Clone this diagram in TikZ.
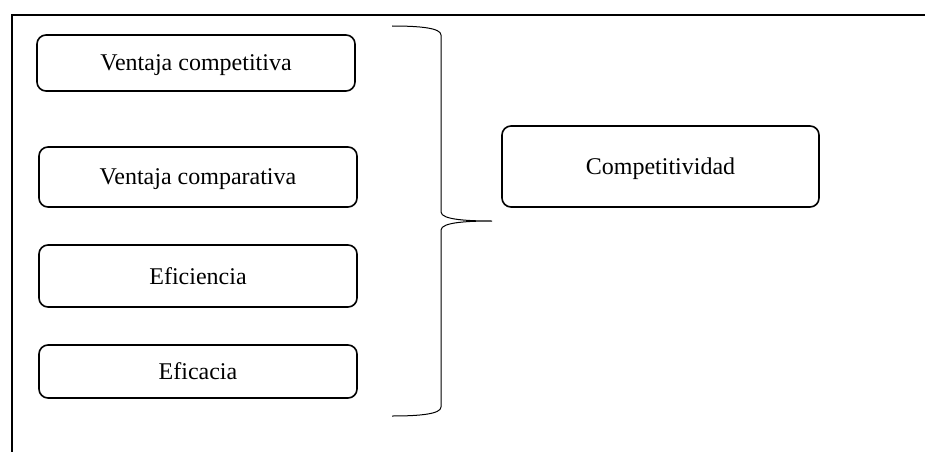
\documentclass[tikz,border=0pt]{standalone}
\usepackage{fontspec}
\setmainfont{Liberation Serif}
\begin{document}
\begin{tikzpicture}[x=1pt,y=-1pt,
  itembox/.style={draw, line width=1.6pt, rounded corners=9pt, inner sep=0pt,
    font=\fontsize{24pt}{28pt}\selectfont, text depth=0pt, minimum width=318pt},
  framestroke/.style={line width=1.8pt},
  bracestroke/.style={line width=1pt}]
  \useasboundingbox (0,0) rectangle (925,452);
  % open frame: top and left edges only
  \draw[framestroke] (925,15) -- (12,15) -- (12,452);
  % factor boxes
  \node[itembox, minimum height=56pt] (vcomp) at (196,63) {Ventaja competitiva};
  \node[itembox, minimum height=60pt] (vcomparativa) at (198,177) {Ventaja comparativa};
  \node[itembox, minimum height=62pt] (efic) at (198,276) {Eficiencia};
  \node[itembox, minimum height=53pt] (eficacia) at (198,371.5) {Eficacia};
  % result box
  \node[itembox, minimum width=317pt, minimum height=81pt] (compet) at (660.5,166.5) {Competitividad};
  % curly brace gathering the factors
  \coordinate (tip) at (492,221);
  \draw[bracestroke] (392,26) .. controls (420,26) and (441,28) .. (441,35)
    -- (441,212) .. controls (441,220) and (470,221) .. (tip)
    .. controls (470,221) and (441,222) .. (441,230)
    -- (441,407) .. controls (441,414) and (420,416) .. (392,416);
\end{tikzpicture}
\end{document}
